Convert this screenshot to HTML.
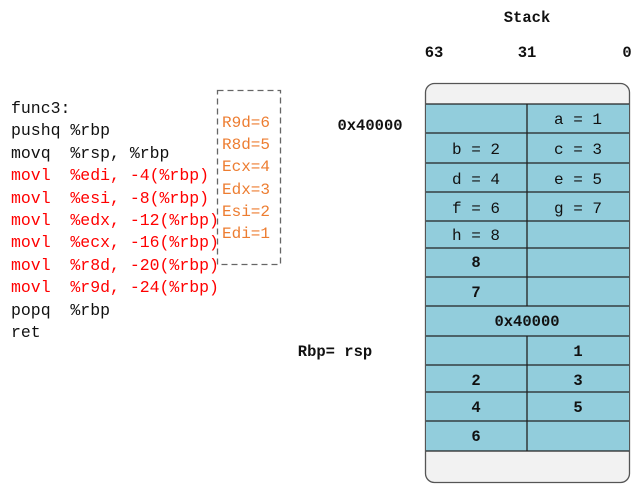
<!DOCTYPE html>
<html><head><meta charset="utf-8"><style>
body{margin:0;width:643px;height:485px;background:#fff;position:relative;overflow:hidden;font-family:"Liberation Mono",monospace}
.t{position:absolute;white-space:pre;font-size:16.5px;line-height:22.4px}
</style></head><body>
<svg width="643" height="485" style="position:absolute;left:0;top:0" font-family="Liberation Mono, monospace">
<rect x="425.5" y="83.5" width="204" height="399" rx="9" fill="#f2f2f2" stroke="#555" stroke-width="1.3"/>
<rect x="426" y="104" width="203" height="347" fill="#92cddc"/>
<g stroke="#222" stroke-width="1.3">
<line x1="426" y1="104" x2="629" y2="104"/><line x1="426" y1="133" x2="629" y2="133"/>
<line x1="426" y1="163" x2="629" y2="163"/><line x1="426" y1="192" x2="629" y2="192"/>
<line x1="426" y1="221" x2="629" y2="221"/><line x1="426" y1="248" x2="629" y2="248"/>
<line x1="426" y1="277" x2="629" y2="277"/><line x1="426" y1="306" x2="629" y2="306"/>
<line x1="426" y1="336" x2="629" y2="336"/><line x1="426" y1="365" x2="629" y2="365"/>
<line x1="426" y1="392" x2="629" y2="392"/><line x1="426" y1="421" x2="629" y2="421"/>
<line x1="426" y1="451" x2="629" y2="451"/>
<line x1="527" y1="104" x2="527" y2="306"/><line x1="527" y1="336" x2="527" y2="451"/>
</g>
<rect x="217.5" y="90.5" width="63" height="174" fill="none" stroke="#666" stroke-width="1.3" stroke-dasharray="6,4"/>
<g font-size="16" fill="#111" text-anchor="middle">
<text x="578" y="124">a = 1</text>
<text x="476" y="154">b = 2</text><text x="578" y="154">c = 3</text>
<text x="476" y="184">d = 4</text><text x="578" y="184">e = 5</text>
<text x="476" y="213">f = 6</text><text x="578" y="213">g = 7</text>
<text x="476" y="240">h = 8</text>
</g>
<g font-size="15.5" font-weight="bold" fill="#111" text-anchor="middle">
<text x="476" y="267">8</text><text x="476" y="297">7</text>
<text x="527" y="326">0x40000</text>
<text x="578" y="356">1</text>
<text x="476" y="385">2</text><text x="578" y="385">3</text>
<text x="476" y="412">4</text><text x="578" y="412">5</text>
<text x="476" y="441">6</text>
<text x="527" y="22">Stack</text>
<text x="434" y="57">63</text><text x="527" y="57">31</text><text x="627" y="57">0</text>
<text x="370" y="130">0x40000</text>
<text x="335" y="356">Rbp=  rsp</text>
</g>
</svg>
<div class="t" style="left:11px;top:98px;color:#111">func3:
pushq %rbp
movq  %rsp, %rbp
<span style="color:#f00">movl  %edi, -4(%rbp)
movl  %esi, -8(%rbp)
movl  %edx, -12(%rbp)
movl  %ecx, -16(%rbp)
movl  %r8d, -20(%rbp)
movl  %r9d, -24(%rbp)</span>
popq  %rbp
ret</div>
<div class="t" style="left:222px;top:112px;color:#ed7d31;font-size:16px;line-height:22.2px">R9d=6
R8d=5
Ecx=4
Edx=3
Esi=2
Edi=1</div>
</body></html>
